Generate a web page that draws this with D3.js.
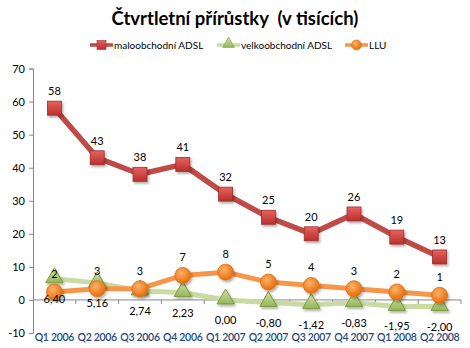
<!DOCTYPE html>
<html><head><meta charset="utf-8">
<script src="https://cdn.jsdelivr.net/npm/d3@7"></script>
<style>body{margin:0;background:#fff}svg{display:block}text{font-family:Lato,"Open Sans",sans-serif;white-space:pre}</style>
</head><body><svg id="c" width="470" height="348"></svg>
<script>
const categories = ["Q1 2006","Q2 2006","Q3 2006","Q4 2006","Q1 2007","Q2 2007","Q3 2007","Q4 2007","Q1 2008","Q2 2008"];
const retailADSL = [58,43,38,41,32,25,20,26,19,13];
const wholesaleADSL = [6.40,5.16,2.74,2.23,0.00,-0.80,-1.42,-0.83,-1.95,-2.00];
const llu = [2.4,3.4,3.4,7.4,8.4,5.4,4.4,3.4,2.4,1.4];
const yTicks = [-10,0,10,20,30,40,50,60,70];
const seriesNames = ["maloobchodní ADSL","velkoobchodní ADSL","LLU"];

const svg = d3.select("#c");
const defs = svg.append("defs");
const f = defs.append("filter").attr("id","sh").attr("x","-50%").attr("y","-50%").attr("width","200%").attr("height","200%");
f.append("feDropShadow").attr("dx",1.5).attr("dy",2).attr("stdDeviation",1.2).attr("flood-color","#000").attr("flood-opacity",0.3);
function grad(id, c1, c2, radial){
  const g = radial ? defs.append("radialGradient").attr("id",id).attr("cx","40%").attr("cy","35%").attr("r","65%")
                   : defs.append("linearGradient").attr("id",id).attr("x1",0).attr("y1",0).attr("x2",0).attr("y2",1);
  g.append("stop").attr("offset","0%").attr("stop-color",c1);
  g.append("stop").attr("offset","100%").attr("stop-color",c2);
}
grad("gr","#e8625f","#b8302d",false);
grad("gg","#cfe0a8","#97b55a",false);
grad("go","#fbb36a","#e66d0c",true);

const x = d3.scaleBand().domain(categories).range([33,461]);
const y = d3.scaleLinear().domain([-10,70]).range([333,68.5]);
const cx = d => x(d) + x.bandwidth()/2;

// title
svg.append("text").attr("x",235).attr("y",25).attr("text-anchor","middle")
  .attr("font-size",18.5).attr("font-weight","bold").text("Čtvrtletní přírůstky  (v tisících)");

// y axis
const ya = svg.append("g").attr("transform","translate(33,0)")
  .call(d3.axisLeft(y).tickValues(yTicks).tickSize(4).tickPadding(4).tickFormat(d=>String(d)));
ya.select(".domain").attr("stroke","#868686");
ya.selectAll(".tick line").attr("stroke","#868686");
ya.selectAll("text").attr("font-size",11).attr("fill","#000").style("font-family","Lato,sans-serif");

// x axis at zero
const xa = svg.append("g").attr("transform",`translate(0,${y(0)})`)
  .call(d3.axisBottom(x).tickSize(0).tickFormat(""));
xa.select(".domain").attr("stroke","#868686").attr("d",`M33,0H461`);
xa.selectAll(".tick").remove();
xa.selectAll("line.b").data(categories).enter().append("line")
  .attr("x1",d=>x(d)+x.step()).attr("x2",d=>x(d)+x.step())
  .attr("y1",0).attr("y2",4).attr("stroke","#868686");
// x labels at bottom
svg.append("g").selectAll("text").data(categories).enter().append("text")
  .attr("x",d=>cx(d)).attr("y",341).attr("text-anchor","middle")
  .attr("font-size",10.5).attr("font-weight","600").attr("letter-spacing",-0.3).attr("fill","#1f497d").text(d=>d);

const line = d3.line().x((d,i)=>cx(categories[i])).y(d=>y(d));

// series lines
svg.append("path").datum(wholesaleADSL).attr("d",line).attr("fill","none")
  .attr("stroke","#c9dba3").attr("stroke-width",5).attr("stroke-linejoin","round");
svg.append("path").datum(llu).attr("d",line).attr("fill","none")
  .attr("stroke","#f7964a").attr("stroke-width",5).attr("stroke-linejoin","round");
svg.append("path").datum(retailADSL).attr("d",line).attr("fill","none")
  .attr("stroke","#be4b48").attr("stroke-width",5.5).attr("stroke-linejoin","round");

// markers
const tri = d3.symbol().type(d3.symbolTriangle).size(130);
svg.append("g").selectAll("path").data(wholesaleADSL).enter().append("path")
  .attr("d",tri).attr("transform",(d,i)=>`translate(${cx(categories[i])},${y(d)-1})`)
  .attr("fill","url(#gg)").attr("stroke","#7a9a3c").attr("stroke-width",1).attr("filter","url(#sh)");
svg.append("g").selectAll("circle").data(llu).enter().append("circle")
  .attr("cx",(d,i)=>cx(categories[i])).attr("cy",d=>y(d)).attr("r",8)
  .attr("fill","url(#go)").attr("stroke","#e0700f").attr("stroke-width",0.8).attr("filter","url(#sh)");
svg.append("g").selectAll("rect").data(retailADSL).enter().append("rect")
  .attr("x",(d,i)=>cx(categories[i])-7).attr("y",d=>y(d)-7).attr("width",14).attr("height",14)
  .attr("fill","url(#gr)").attr("stroke","#9c2f2c").attr("stroke-width",0.8).attr("filter","url(#sh)");

// data labels
const fmtC = v => d3.format(".2f")(v).replace("\u2212","-").replace(".",",");
svg.append("g").selectAll("text").data(wholesaleADSL).enter().append("text")
  .attr("x",(d,i)=>cx(categories[i])).attr("y",d=>y(d)+24).attr("text-anchor","middle")
  .attr("font-size",11).attr("fill","#000").text(fmtC);
svg.append("g").selectAll("text").data(llu).enter().append("text")
  .attr("x",(d,i)=>cx(categories[i])).attr("y",d=>y(d)-14).attr("text-anchor","middle")
  .attr("font-size",11).attr("fill","#000").text(d=>Math.floor(d+0.5));
svg.append("g").selectAll("text").data(retailADSL).enter().append("text")
  .attr("x",(d,i)=>cx(categories[i])).attr("y",d=>y(d)-13).attr("text-anchor","middle")
  .attr("font-size",11).attr("fill","#000").text(d=>d3.format(".0f")(d));

// legend
const lg = svg.append("g");
const items = [
  {name:seriesNames[0], x:90, col:"#be4b48", m:"rect"},
  {name:seriesNames[1], x:217, col:"#c9dba3", m:"tri"},
  {name:seriesNames[2], x:345, col:"#f7964a", m:"circ"}
];
items.forEach(it=>{
  const g = lg.append("g").attr("transform",`translate(${it.x},45)`);
  g.append("line").attr("x1",0).attr("x2",23).attr("stroke",it.col).attr("stroke-width",3.5);
  if(it.m==="rect") g.append("rect").attr("x",7).attr("y",-4.5).attr("width",9).attr("height",9).attr("fill","url(#gr)").attr("stroke","#9c2f2c").attr("stroke-width",0.6);
  if(it.m==="tri") g.append("path").attr("d",d3.symbol().type(d3.symbolTriangle).size(60)).attr("transform","translate(11.5,-1)").attr("fill","url(#gg)").attr("stroke","#7a9a3c").attr("stroke-width",0.6);
  if(it.m==="circ") g.append("circle").attr("cx",11.5).attr("r",5).attr("fill","url(#go)").attr("stroke","#e0700f").attr("stroke-width",0.6);
  g.append("text").attr("x",24).attr("y",3.5).attr("font-size",10).attr("fill","#000").text(it.name);
});
</script></body></html>
